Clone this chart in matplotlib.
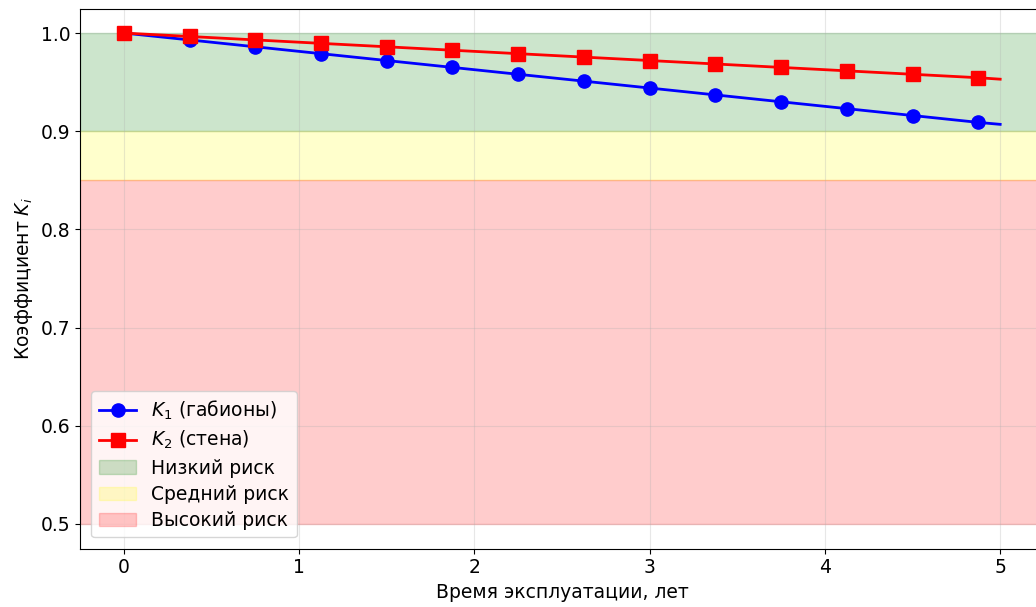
import numpy as np
import matplotlib.pyplot as plt

# years of service (marker points every 0.375 yr, line ends at 5)
years = [0, 0.375, 0.75, 1.125, 1.5, 1.875, 2.25, 2.625, 3.0, 3.375, 3.75, 4.125, 4.5, 4.875, 5.0]
k1_gabions = [1.000, 0.993, 0.986, 0.979, 0.972, 0.965, 0.958, 0.951, 0.944, 0.937, 0.930, 0.923, 0.916, 0.909, 0.907]
k2_wall = [1.000, 0.9965, 0.993, 0.9895, 0.986, 0.9825, 0.979, 0.9755, 0.972, 0.9685, 0.965, 0.9615, 0.958, 0.9545, 0.953]

zones = [(0.9, 1.0, 'green', 'Низкий риск'),
         (0.85, 0.9, 'yellow', 'Средний риск'),
         (0.5, 0.85, 'red', 'Высокий риск')]

plt.rcParams['font.size'] = 13.5

fig = plt.figure(figsize=(10.36, 6.07), dpi=100)
ax = fig.add_axes([80/1036, 58.5/607, 964/1036, 540/607])

marks = list(range(len(years) - 1))
ax.plot(years, k1_gabions, 'b-o', lw=2, ms=9.5, markevery=marks, label='$K_1$ (габионы)')
ax.plot(years, k2_wall, 'r-s', lw=2, ms=9.5, markevery=marks, label='$K_2$ (стена)')
for lo, hi, c, name in zones:
    ax.axhspan(lo, hi, color=c, alpha=0.2, label=name)

ax.set_xlim(-0.25, 5.25)
ax.set_ylim(0.475, 1.025)
ax.set_yticks([0.5, 0.6, 0.7, 0.8, 0.9, 1.0])
ax.set_xlabel('Время эксплуатации, лет')
ax.set_ylabel('Коэффициент $K_i$')
ax.grid(True, alpha=0.3)
ax.legend(loc='lower left', labelspacing=0.38, borderaxespad=0.6)

fig.savefig('out.png', dpi=100)
